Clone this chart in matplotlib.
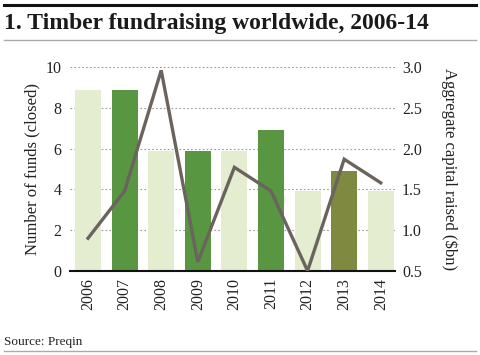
import matplotlib
matplotlib.use("Agg")
import matplotlib.pyplot as plt
from matplotlib.lines import Line2D

years = ["2006", "2007", "2008", "2009", "2010", "2011", "2012", "2013", "2014"]
funds = [8.9, 8.9, 5.9, 5.9, 5.9, 6.9, 3.9, 4.9, 3.9]
capital = [0.90, 1.48, 2.96, 0.61, 1.77, 1.48, 0.50, 1.87, 1.58]
bar_colors = ["#e4edd0", "#589641", "#e4edd0", "#589641", "#e4edd0",
              "#589641", "#e4edd0", "#7f8a40", "#e4edd0"]
left_ticks = [0, 2, 4, 6, 8, 10]
right_ticks = [0.5, 1.0, 1.5, 2.0, 2.5, 3.0]

plt.rcParams['font.family'] = ['Liberation Serif', 'DejaVu Serif']

fig = plt.figure(figsize=(4.8, 3.55), dpi=100)
ax = fig.add_axes([0.146, 0.237, 0.677, 0.574])

x = list(range(len(years)))
ax.bar(x, funds, width=0.71, color=bar_colors, zorder=2)
ax.set_xlim(-0.49, 8.39)
ax.set_ylim(0, 10)
ax.set_yticks(left_ticks)
ax.set_yticklabels([str(t) for t in left_ticks], fontsize=11.5, color="#222222")
ax.set_xticks(x)
ax.set_xticklabels(years, rotation=90, fontsize=11.5, color="#222222")
ax.tick_params(axis='both', length=0, pad=5)
ax.tick_params(axis='y', pad=6)
for s in ["top", "right", "left"]:
    ax.spines[s].set_visible(False)
ax.spines["bottom"].set_color("#111111")
ax.spines["bottom"].set_linewidth(1.5)
ax.yaxis.grid(True, linestyle=(0, (1.5, 2)), color="#999999", linewidth=0.8, zorder=0)
ax.set_axisbelow(True)
ax.set_ylabel("Number of funds (closed)", fontsize=12, color="#222222", labelpad=4)

ax2 = ax.twinx()
ax2.plot(x, capital, color="#6b635e", linewidth=2.4, zorder=3, solid_joinstyle='miter')
ax2.set_ylim(0.5, 3.0)
ax2.set_yticks(right_ticks)
ax2.set_yticklabels([f"{t:.1f}" for t in right_ticks], fontsize=11.5, color="#222222")
ax2.tick_params(axis='y', length=0, pad=5)
for s in ["top", "right", "left", "bottom"]:
    ax2.spines[s].set_visible(False)
ax2.set_ylabel("Aggregate capital raised ($bn)", fontsize=12, color="#222222",
               rotation=270, labelpad=26)

fig.add_artist(Line2D([0.008, 0.992], [0.986, 0.986], color="#111111", linewidth=2.2))
fig.add_artist(Line2D([0.008, 0.992], [0.887, 0.887], color="#aaaaaa", linewidth=1.0))
fig.add_artist(Line2D([0.008, 0.992], [0.011, 0.011], color="#aaaaaa", linewidth=1.0))
fig.text(0.008, 0.935, "1. Timber fundraising worldwide, 2006-14", fontsize=17,
         fontweight='bold', color="#1a1a1a", va='center', ha='left')
fig.text(0.008, 0.036, "Source: Preqin", fontsize=9.5, color="#222222", va='center', ha='left')

fig.savefig("out.png", dpi=100)
